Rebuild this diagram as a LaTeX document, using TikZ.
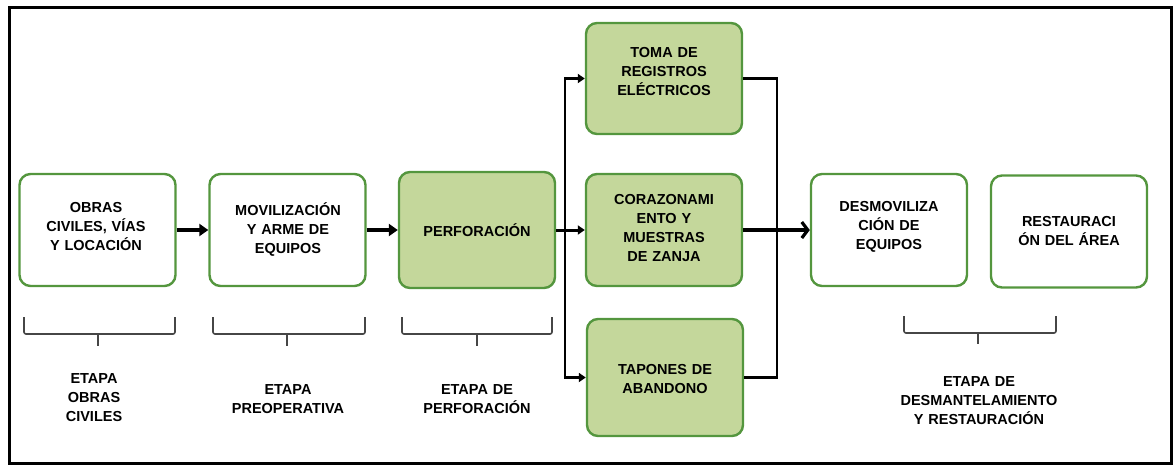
\documentclass[tikz,border=0pt]{standalone}
\usepackage{fontspec}
\setmainfont{Liberation Sans}
\usetikzlibrary{arrows.meta}
\definecolor{boxgreen}{RGB}{84,150,62}
\definecolor{fillgreen}{RGB}{196,215,155}
\definecolor{bracketgray}{RGB}{70,70,70}
\tikzset{
  stagebox/.style={draw=boxgreen, line width=2.4pt, rounded corners=11pt, fill=white,
    minimum width=156pt, minimum height=112pt, inner sep=0pt},
  greenbox/.style={stagebox, fill=fillgreen},
  boxtext/.style={font=\bfseries\fontsize{14.5}{19}\selectfont, align=center, text width=150pt, inner sep=0pt},
  flow/.style={line width=3.2pt, -{Triangle[length=9pt,width=12pt]}},
  branchflow/.style={line width=3pt, -{Triangle[length=7pt,width=9pt]}},
  bigflow/.style={line width=3.2pt, -{Straight Barb[length=6pt,width=16pt]}},
  joinline/.style={line width=3pt},
  vline/.style={line width=2pt},
  bracket/.style={draw=bracketgray, line width=1.6pt, rounded corners=2pt},
}
\begin{document}
\begin{tikzpicture}[x=1pt,y=-1pt]
\useasboundingbox (0,0) rectangle (1175,466);
\draw[line width=3pt] (9.5,7) rectangle (1171,463);

% boxes
\node[stagebox] (b1) at (97.5,230) {};
\node[stagebox] (b2) at (287.5,230) {};
\node[greenbox, minimum height=116pt] (b3) at (477,230) {};
\node[greenbox, minimum height=111pt] (b4) at (664,78.5) {};
\node[greenbox] (b5) at (664,230) {};
\node[greenbox, minimum height=117pt] (b6) at (665,377.5) {};
\node[stagebox] (b7) at (889,230) {};
\node[stagebox] (b8) at (1069,231.5) {};

% box texts
\node[boxtext] (t1) at (96,227) {OBRAS\\CIVILES, VÍAS\\Y LOCACIÓN};
\node[boxtext] (t2) at (288,229) {MOVILIZACIÓN\\Y ARME DE\\EQUIPOS};
\node[boxtext] (t3) at (477,230) {PERFORACIÓN};
\node[boxtext] (t4) at (664,72) {TOMA DE\\REGISTROS\\ELÉCTRICOS};
\node[boxtext] (t5) at (664,228.5) {CORAZONAMI\\ENTO Y\\MUESTRAS\\DE ZANJA};
\node[boxtext] (t6) at (665,379) {TAPONES DE\\ABANDONO};
\node[boxtext] (t7) at (889,227) {DESMOVILIZA\\CIÓN DE\\EQUIPOS};
\node[boxtext] (t8) at (1069,231) {RESTAURACI\\ÓN DEL ÁREA};

% connectors
\coordinate (sl) at (565,230);
\coordinate (sr) at (777,230);
\draw[flow] (b1.east) -- (b2.west);
\draw[flow] (b2.east) -- (b3.west);
\draw[joinline] (b3.east) -- (sl);
\draw[vline] (sl |- b4.west) -- (sl |- b6.west);
\draw[branchflow] ([xshift=-1pt]sl |- b4.west) -- (b4.west);
\draw[branchflow] (sl) -- (b5.west);
\draw[branchflow] ([xshift=-1pt]sl |- b6.west) -- (b6.west);
\draw[joinline] (b4.east) -- ([xshift=1pt]sr |- b4.east);
\draw[joinline] (b6.east) -- ([xshift=1pt]sr |- b6.east);
\draw[vline] (sr |- b4.east) -- (sr |- b6.east);
\draw[bigflow] (b5.east) -- (b7.west);

% brackets
\draw[bracket] (24,317) -- (24,334) -- (175,334) -- (175,317);
\draw[bracket] (98,334) -- (98,346);
\draw[bracket] (213,317) -- (213,334) -- (365,334) -- (365,317);
\draw[bracket] (287,334) -- (287,346);
\draw[bracket] (402,317) -- (402,334) -- (552,334) -- (552,317);
\draw[bracket] (477,334) -- (477,346);
\draw[bracket] (904,316) -- (904,333) -- (1056,333) -- (1056,316);
\draw[bracket] (978,333) -- (978,344);

% stage labels
\node[boxtext] (l1) at (94,398) {ETAPA\\OBRAS\\CIVILES};
\node[boxtext] (l2) at (288,399) {ETAPA\\PREOPERATIVA};
\node[boxtext] (l3) at (477,399) {ETAPA DE\\PERFORACIÓN};
\node[boxtext, text width=180pt] (l4) at (979,401) {ETAPA DE\\DESMANTELAMIENTO\\Y RESTAURACIÓN};
\end{tikzpicture}
\end{document}
